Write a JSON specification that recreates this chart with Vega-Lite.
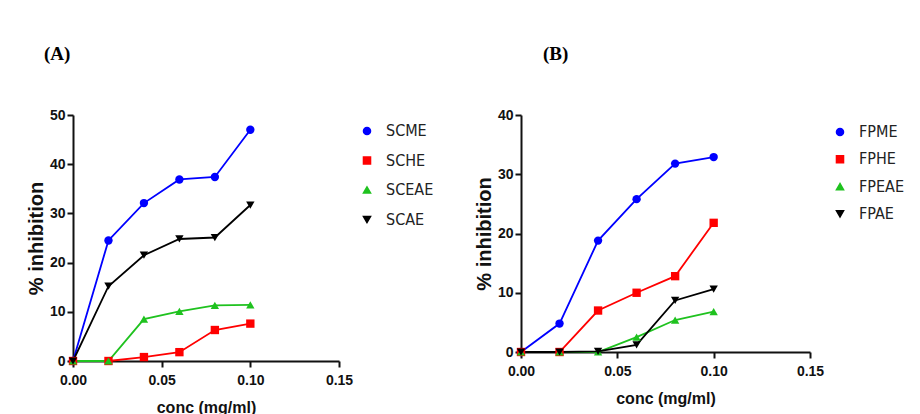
{
  "$schema": "https://vega.github.io/schema/vega-lite/v6.json",
  "background": "white",
  "padding": {"left": 26, "top": 45, "right": 0, "bottom": 0},
  "data": {"values": [
    {"panel": "A", "series": "SCME", "conc": 0, "inhibition": 0},
    {"panel": "A", "series": "SCME", "conc": 0.02, "inhibition": 24.5},
    {"panel": "A", "series": "SCME", "conc": 0.04, "inhibition": 32.1},
    {"panel": "A", "series": "SCME", "conc": 0.06, "inhibition": 36.9},
    {"panel": "A", "series": "SCME", "conc": 0.08, "inhibition": 37.4},
    {"panel": "A", "series": "SCME", "conc": 0.1, "inhibition": 47},
    {"panel": "A", "series": "SCHE", "conc": 0, "inhibition": 0},
    {"panel": "A", "series": "SCHE", "conc": 0.02, "inhibition": 0},
    {"panel": "A", "series": "SCHE", "conc": 0.04, "inhibition": 0.8},
    {"panel": "A", "series": "SCHE", "conc": 0.06, "inhibition": 1.8},
    {"panel": "A", "series": "SCHE", "conc": 0.08, "inhibition": 6.3},
    {"panel": "A", "series": "SCHE", "conc": 0.1, "inhibition": 7.6},
    {"panel": "A", "series": "SCEAE", "conc": 0, "inhibition": 0},
    {"panel": "A", "series": "SCEAE", "conc": 0.02, "inhibition": 0},
    {"panel": "A", "series": "SCEAE", "conc": 0.04, "inhibition": 8.5},
    {"panel": "A", "series": "SCEAE", "conc": 0.06, "inhibition": 10.1},
    {"panel": "A", "series": "SCEAE", "conc": 0.08, "inhibition": 11.3},
    {"panel": "A", "series": "SCEAE", "conc": 0.1, "inhibition": 11.4},
    {"panel": "A", "series": "SCAE", "conc": 0, "inhibition": 0},
    {"panel": "A", "series": "SCAE", "conc": 0.02, "inhibition": 15.2},
    {"panel": "A", "series": "SCAE", "conc": 0.04, "inhibition": 21.5},
    {"panel": "A", "series": "SCAE", "conc": 0.06, "inhibition": 24.8},
    {"panel": "A", "series": "SCAE", "conc": 0.08, "inhibition": 25.1},
    {"panel": "A", "series": "SCAE", "conc": 0.1, "inhibition": 31.7},
    {"panel": "B", "series": "FPME", "conc": 0, "inhibition": 0},
    {"panel": "B", "series": "FPME", "conc": 0.02, "inhibition": 4.8},
    {"panel": "B", "series": "FPME", "conc": 0.04, "inhibition": 18.8},
    {"panel": "B", "series": "FPME", "conc": 0.06, "inhibition": 25.8},
    {"panel": "B", "series": "FPME", "conc": 0.08, "inhibition": 31.8},
    {"panel": "B", "series": "FPME", "conc": 0.1, "inhibition": 32.9},
    {"panel": "B", "series": "FPHE", "conc": 0, "inhibition": 0},
    {"panel": "B", "series": "FPHE", "conc": 0.02, "inhibition": 0},
    {"panel": "B", "series": "FPHE", "conc": 0.04, "inhibition": 7},
    {"panel": "B", "series": "FPHE", "conc": 0.06, "inhibition": 10},
    {"panel": "B", "series": "FPHE", "conc": 0.08, "inhibition": 12.8},
    {"panel": "B", "series": "FPHE", "conc": 0.1, "inhibition": 21.8},
    {"panel": "B", "series": "FPEAE", "conc": 0, "inhibition": 0},
    {"panel": "B", "series": "FPEAE", "conc": 0.02, "inhibition": 0},
    {"panel": "B", "series": "FPEAE", "conc": 0.04, "inhibition": 0},
    {"panel": "B", "series": "FPEAE", "conc": 0.06, "inhibition": 2.5},
    {"panel": "B", "series": "FPEAE", "conc": 0.08, "inhibition": 5.4},
    {"panel": "B", "series": "FPEAE", "conc": 0.1, "inhibition": 6.8},
    {"panel": "B", "series": "FPAE", "conc": 0, "inhibition": 0},
    {"panel": "B", "series": "FPAE", "conc": 0.02, "inhibition": 0},
    {"panel": "B", "series": "FPAE", "conc": 0.04, "inhibition": 0.1},
    {"panel": "B", "series": "FPAE", "conc": 0.06, "inhibition": 1.2},
    {"panel": "B", "series": "FPAE", "conc": 0.08, "inhibition": 8.7},
    {"panel": "B", "series": "FPAE", "conc": 0.1, "inhibition": 10.6}
  ]},
  "spacing": 40,
  "resolve": {"scale": {"color": "independent", "shape": "independent", "x": "independent", "y": "independent"}},
  "hconcat": [
    {
      "width": 266,
      "height": 246,
      "title": {"text": "(A)", "anchor": "start", "frame": "group", "dx": -29, "offset": 29, "baseline": "alphabetic", "font": "Liberation Serif", "fontSize": 19, "fontWeight": "bold", "color": "#000"},
      "transform": [{"filter": "datum.panel == 'A'"}],
      "encoding": {
        "x": {"field": "conc", "type": "quantitative", "scale": {"domain": [0, 0.15], "nice": false}, "axis": {"values": [0, 0.05, 0.1, 0.15], "format": ".2f", "title": "conc (mg/ml)"}},
        "y": {"field": "inhibition", "type": "quantitative", "scale": {"domain": [0, 50], "nice": false}, "axis": {"values": [0, 10, 20, 30, 40, 50], "title": "% inhibition"}},
        "color": {"field": "series", "type": "nominal", "sort": ["SCME", "SCHE", "SCEAE", "SCAE"],
          "scale": {"domain": ["SCME", "SCHE", "SCEAE", "SCAE"], "range": ["#0000ff", "#ff0000", "#1fc21f", "#000000"]},
          "legend": {"title": null, "orient": "none", "legendX": 286, "legendY": 8, "padding": 0, "rowPadding": 13.5, "symbolSize": 50, "labelOffset": 11}
        }
      },
      "layer": [
        {"mark": {"type": "line", "strokeWidth": 1.8}},
        {"mark": {"type": "point", "filled": true, "size": 70, "opacity": 1},
          "encoding": {"shape": {"field": "series", "type": "nominal", "scale": {"domain": ["SCME", "SCHE", "SCEAE", "SCAE"], "range": ["circle", "square", "triangle-up", "triangle-down"]}, "legend": {"title": null, "orient": "none", "legendX": 286, "legendY": 8, "padding": 0, "rowPadding": 13.5, "symbolSize": 50, "labelOffset": 11}}}}
      ]
    },
    {
      "width": 289,
      "height": 237,
      "title": {"text": "(B)", "anchor": "start", "frame": "group", "dx": 22, "offset": 29, "baseline": "alphabetic", "font": "Liberation Serif", "fontSize": 19, "fontWeight": "bold", "color": "#000"},
      "transform": [{"filter": "datum.panel == 'B'"}],
      "encoding": {
        "x": {"field": "conc", "type": "quantitative", "scale": {"domain": [0, 0.15], "nice": false}, "axis": {"values": [0, 0.05, 0.1, 0.15], "format": ".2f", "title": "conc (mg/ml)"}},
        "y": {"field": "inhibition", "type": "quantitative", "scale": {"domain": [0, 40], "nice": false}, "axis": {"values": [0, 10, 20, 30, 40], "title": "% inhibition"}},
        "color": {"field": "series", "type": "nominal", "sort": ["FPME", "FPHE", "FPEAE", "FPAE"],
          "scale": {"domain": ["FPME", "FPHE", "FPEAE", "FPAE"], "range": ["#0000ff", "#ff0000", "#1fc21f", "#000000"]},
          "legend": {"title": null, "orient": "none", "legendX": 311, "legendY": 9, "padding": 0, "rowPadding": 11.3, "symbolSize": 50, "labelOffset": 11}
        }
      },
      "layer": [
        {"mark": {"type": "line", "strokeWidth": 1.8}},
        {"mark": {"type": "point", "filled": true, "size": 70, "opacity": 1},
          "encoding": {"shape": {"field": "series", "type": "nominal", "scale": {"domain": ["FPME", "FPHE", "FPEAE", "FPAE"], "range": ["circle", "square", "triangle-up", "triangle-down"]}, "legend": {"title": null, "orient": "none", "legendX": 311, "legendY": 9, "padding": 0, "rowPadding": 11.3, "symbolSize": 50, "labelOffset": 11}}}}
      ]
    }
  ],
  "config": {
    "view": {"stroke": null},
    "axis": {"grid": false, "labelFlush": false, "domainColor": "#111", "domainWidth": 2, "tickColor": "#111", "tickWidth": 2, "tickSize": 6,
      "labelFont": "Liberation Sans", "labelFontWeight": "bold", "labelFontSize": 14, "labelColor": "#111",
      "titleFont": "Liberation Sans", "titleFontWeight": "bold", "titleColor": "#111"},
    "axisX": {"titleFontSize": 16, "labelPadding": 6, "titlePadding": 12},
    "axisY": {"titleFontSize": 20, "labelPadding": 2, "titlePadding": 3},
    "legend": {"labelFont": "DejaVu Sans Condensed, Liberation Sans", "labelFontSize": 16, "labelColor": "#222"}
  }
}
